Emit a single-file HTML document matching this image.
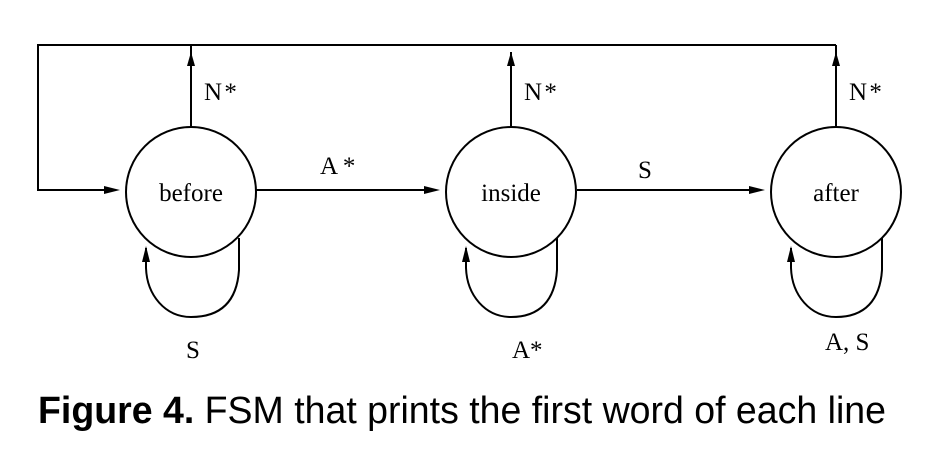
<!DOCTYPE html>
<html><head><meta charset="utf-8"><style>
html,body{margin:0;padding:0;background:#fff;}
svg{display:block;}
</style></head><body>
<svg width="950" height="450" viewBox="0 0 950 450" xmlns="http://www.w3.org/2000/svg">
<g fill="none" stroke="#000" stroke-width="2">
<circle cx="191" cy="192" r="65"/>
<circle cx="511" cy="192" r="65"/>
<circle cx="836" cy="192" r="65"/>
<polyline points="191,127 191,45 38,45 38,190 112,190"/>
<line x1="836" y1="127" x2="836" y2="45"/>
<line x1="836" y1="45" x2="191" y2="45"/>
<line x1="511" y1="127" x2="511" y2="52"/>
<line x1="256" y1="190" x2="432" y2="190"/>
<line x1="577" y1="190" x2="752" y2="190"/>
<path d="M239,238 L239,270 C237,300 222,317 191,317 C165,317 147,295 146,268 L146,248"/>
<path d="M557,238 L557,270 C555,300 540,317 511,317 C485,317 467,295 466,268 L466,248"/>
<path d="M882,238 L882,270 C880,300 865,317 836,317 C810,317 792,295 791,268 L791,248"/>
</g>
<g fill="#000">
<polygon points="191,52 187,66 195,66"/>
<polygon points="511,52 507,66 515,66"/>
<polygon points="836,52 832,66 840,66"/>
<polygon points="120,190 104,186 104,194"/>
<polygon points="440,190 424,186 424,194"/>
<polygon points="765,190 749,186 749,194"/>
<polygon points="146,246 142,262 150,262"/>
<polygon points="466,246 462,262 470,262"/>
<polygon points="791,246 787,262 795,262"/>
</g>
<g font-family="'Liberation Serif', serif" font-size="25" fill="#000">
<text x="191" y="201" text-anchor="middle">before</text>
<text x="511" y="201" text-anchor="middle">inside</text>
<text x="836" y="201" text-anchor="middle">after</text>
<text x="204" y="100">N <tspan dx="-4">*</tspan></text>
<text x="524" y="100">N <tspan dx="-4">*</tspan></text>
<text x="849" y="100">N <tspan dx="-4">*</tspan></text>
<text x="320" y="174">A *</text>
<text x="638" y="178">S</text>
<text x="186" y="358">S</text>
<text x="512" y="358">A*</text>
<text x="825" y="350">A, S</text>
</g>
<text x="38" y="423" font-family="'Liberation Sans', sans-serif" font-size="38" textLength="848" lengthAdjust="spacingAndGlyphs" fill="#000"><tspan font-weight="bold">Figure 4.</tspan> FSM that prints the first word of each line</text>
</svg>
</body></html>
